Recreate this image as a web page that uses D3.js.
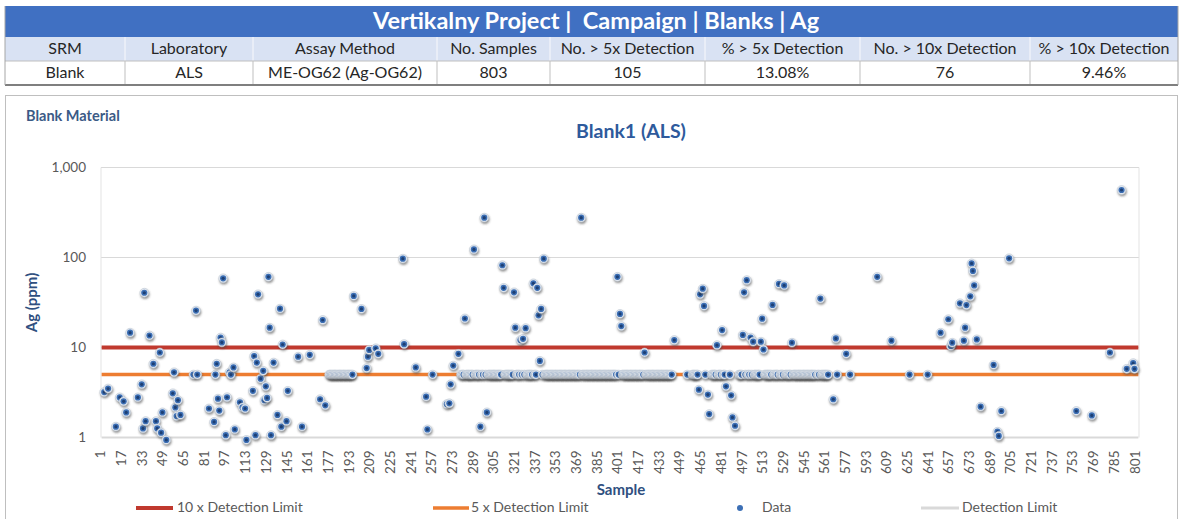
<!DOCTYPE html>
<html><head><meta charset="utf-8">
<script src="https://cdn.jsdelivr.net/npm/d3@7"></script>
<style>
body{margin:0;background:#fff;}
svg{font-family:Lato,"Open Sans",sans-serif;display:block;}
text{white-space:pre;}
</style></head><body>
<svg id="c" width="1182" height="519"></svg>
<script>
// ---------------- data ----------------
const tableTitle = "Vertikalny Project |  Campaign | Blanks | Ag";
const tableHeaders = ["SRM","Laboratory","Assay Method","No. Samples","No. > 5x Detection","% > 5x Detection","No. > 10x Detection","% > 10x Detection"];
const tableValues = ["Blank","ALS","ME-OG62 (Ag-OG62)","803","105","13.08%","76","9.46%"];
const chartTitle = "Blank1 (ALS)";
const cornerLabel = "Blank Material";
const sampleCount = 803;
const xTickLabels = [1,17,33,49,65,81,97,113,129,145,161,177,193,209,225,241,257,273,289,305,321,337,353,369,385,401,417,433,449,465,481,497,513,529,545,561,577,593,609,625,641,657,673,689,705,721,737,753,769,785,801];
const yTickValues = [1,10,100,1000];
const detectionLimit = 1;
const fiveXLimit = 5;
const tenXLimit = 10;
// visible assays (sample number, Ag ppm)
const dataSamples = [3,6,12,15,18,20,23,29,32,33,34,35,38,41,43,44,46,47,48,51,56,57,58,59,60,62,72,74,75,84,88,89,90,91,92,93,94,95,97,98,100,101,103,104,108,110,112,113,118,119,120,121,122,124,126,127,128,129,130,131,132,134,137,139,140,141,144,145,153,156,162,170,172,174,196,202,206,207,208,213,215,234,235,244,252,253,257,268,270,271,273,277,282,289,294,297,299,311,312,320,321,325,327,329,335,338,339,340,341,343,372,400,402,403,421,444,463,464,466,467,470,471,477,481,484,488,489,491,497,498,500,503,505,511,512,513,520,525,529,535,557,567,569,577,601,612,626,640,650,656,658,659,665,668,669,670,673,674,675,676,678,681,691,694,695,697,703,755,767,781,790,794,799,800];
const dataValues  = [3.2,3.5,1.32,2.79,2.52,1.9,14.6,2.79,3.9,1.26,40.6,1.52,13.6,6.6,1.52,1.26,8.8,1.13,1.9,0.94,3.1,5.3,2.16,1.73,2.6,1.78,5,25.7,5,2.1,1.49,5,6.6,2.7,1.99,12.9,11.4,58.7,1.06,2.8,5.3,5,6.0,1.23,2.46,2.16,2.1,0.94,3.3,8.05,1.06,6.8,39,4.5,5.5,2.6,3.7,2.75,61,16.6,1.06,6.8,1.78,27,1.32,10.8,1.52,3.3,7.9,1.32,8.3,2.66,20.2,2.28,37.4,26.8,5.9,7.9,9.4,9.8,8.5,97,10.9,6.0,2.84,1.23,5,2.35,2.4,3.9,6.3,8.5,21,123,1.32,277,1.9,82,46,41,16.6,12.1,12.5,16.4,51.6,46,22.8,7.1,26.8,97,277,61,23.6,17.3,8.8,12.1,3.4,39,45,29,3.0,1.82,10.6,15.6,3.7,2.94,1.67,1.35,13.8,41,56,12.9,11.6,11.6,20.9,9.5,29.7,50.8,49,11.3,35,2.66,12.6,8.5,61,11.9,5,5,14.6,20.6,10.4,11.3,31,11.9,16.6,29.6,37,86,71,49,12.3,2.2,6.4,1.16,1.04,1.97,98,1.97,1.76,8.8,562,5.8,6.7,5.8];
// runs of consecutive samples reported at the 5 ppm level [first, last]
const atFiveRuns = [[177,195],[279,399],[401,442],[454,454],[458,462],[468,468],[473,483],[487,487],[494,553],[555,563],[570,570],[580,580]];
const legendItems = ["10 x Detection Limit","5 x Detection Limit","Data","Detection Limit"];

// ---------------- drawing ----------------
const svg = d3.select("#c");
const defs = svg.append("defs");
defs.append("filter").attr("id","blur").attr("x","-50%").attr("y","-50%").attr("width","200%").attr("height","200%")
  .append("feGaussianBlur").attr("stdDeviation",0.9);
defs.append("filter").attr("id","lblur").attr("x","-5%").attr("y","-300%").attr("width","110%").attr("height","700%")
  .append("feGaussianBlur").attr("stdDeviation",1.1);

// ---- table ----
const colEdges = [5,125,253,437,550,705,860,1030,1178];
const tTop = 6, tMid1 = 37, tMid2 = 61, tBot = 85;
svg.append("rect").attr("x",5).attr("y",tTop).attr("width",1173).attr("height",tMid1-tTop).attr("fill","#4070c2");
svg.append("text").attr("x",596).attr("y",(tTop+tMid1)/2+1).attr("text-anchor","middle").attr("dominant-baseline","middle")
  .attr("fill","#fff").attr("font-weight","bold").attr("font-size",23.5).text(tableTitle);
svg.append("rect").attr("x",5).attr("y",tMid1).attr("width",1173).attr("height",tMid2-tMid1).attr("fill","#d9e2f3");
svg.append("rect").attr("x",5).attr("y",tMid2).attr("width",1173).attr("height",tBot-tMid2).attr("fill","#fff");
for (let i=1;i<colEdges.length-1;i++){
  svg.append("line").attr("x1",colEdges[i]).attr("x2",colEdges[i]).attr("y1",tMid1).attr("y2",tMid2).attr("stroke","#f4f6fb").attr("stroke-width",1.2);
  svg.append("line").attr("x1",colEdges[i]).attr("x2",colEdges[i]).attr("y1",tMid2).attr("y2",tBot).attr("stroke","#bfbfbf").attr("stroke-width",1);
}
svg.append("line").attr("x1",5).attr("x2",1178).attr("y1",tMid2).attr("y2",tMid2).attr("stroke","#bfbfbf");
svg.append("line").attr("x1",5).attr("x2",1178).attr("y1",tBot).attr("y2",tBot).attr("stroke","#7f7f7f").attr("stroke-width",2);
svg.append("line").attr("x1",5).attr("x2",5).attr("y1",tTop).attr("y2",tBot).attr("stroke","#a6a6a6");
svg.append("line").attr("x1",1178).attr("x2",1178).attr("y1",tTop).attr("y2",tBot).attr("stroke","#a6a6a6");
tableHeaders.forEach((h,i)=>{
  const cx=(colEdges[i]+colEdges[i+1])/2;
  svg.append("text").attr("x",cx).attr("y",(tMid1+tMid2)/2+1).attr("text-anchor","middle").attr("dominant-baseline","middle")
    .attr("font-size",16).attr("fill","#262626").text(h);
  svg.append("text").attr("x",cx).attr("y",(tMid2+tBot)/2+1).attr("text-anchor","middle").attr("dominant-baseline","middle")
    .attr("font-size",16).attr("fill","#262626").text(tableValues[i]);
});

// ---- chart frame ----
svg.append("rect").attr("x",5.5).attr("y",95.5).attr("width",1172).attr("height",430).attr("fill","none").attr("stroke","#bfbfbf");
svg.append("text").attr("x",26).attr("y",121).attr("font-size",14.5).attr("font-weight","bold").attr("fill","#3b5a86").text(cornerLabel);
svg.append("text").attr("x",631).attr("y",138).attr("text-anchor","middle").attr("font-size",19.5).attr("font-weight","bold").attr("fill","#2e5a9c").text(chartTitle);

const L=101, R=1139, T=167.5, B=437.5;
const x = d3.scaleBand().domain(d3.range(1,sampleCount+1)).range([L,R]);
const xc = s => x(s)+x.bandwidth()/2;
const y = d3.scaleLog().domain([1,1000]).range([B,T]);

// gridlines & plot border
svg.append("g").selectAll("line").data(yTickValues.slice(1)).join("line")
  .attr("x1",L).attr("x2",R).attr("y1",d=>y(d)).attr("y2",d=>y(d)).attr("stroke","#d9d9d9").attr("stroke-width",1.2);
svg.append("line").attr("x1",L).attr("x2",L).attr("y1",T).attr("y2",B).attr("stroke","#e3e3e3");
svg.append("line").attr("x1",R).attr("x2",R).attr("y1",T).attr("y2",B).attr("stroke","#e3e3e3");

// axes
const yAxis = svg.append("g").attr("transform",`translate(${L-12},0)`)
  .call(d3.axisLeft(y).tickValues(yTickValues).tickFormat(d3.format(",")).tickSize(0));
yAxis.select(".domain").remove();
yAxis.selectAll("text").attr("font-size",13.5).attr("fill","#595959").attr("font-family","Lato,sans-serif");

const xAxis = svg.append("g").attr("transform",`translate(0,${B})`)
  .call(d3.axisBottom(x).tickValues(xTickLabels).tickSize(0));
xAxis.select(".domain").remove();
xAxis.selectAll("text").attr("font-size",13.5).attr("fill","#595959").attr("font-family","Lato,sans-serif")
  .attr("text-anchor","end").attr("transform","rotate(-90)").attr("x",-13).attr("y",-1).attr("dy","0.35em");

// reference lines
const lineGen = d3.line().x(d=>xc(d[0])).y(d=>y(d[1]));
function refLine(v,color,w){
  const pts=[[1,v],[sampleCount,v]];
  svg.append("path").attr("d",lineGen(pts)).attr("transform","translate(1,3.8)").attr("fill","none")
    .attr("stroke","#7f9894").attr("stroke-opacity",0.55).attr("stroke-width",w).attr("filter","url(#lblur)");
  svg.append("path").attr("d",lineGen(pts)).attr("fill","none").attr("stroke",color).attr("stroke-width",w);
}
svg.append("path").attr("d",lineGen([[1,detectionLimit],[sampleCount,detectionLimit]])).attr("fill","none").attr("stroke","#d9d9d9").attr("stroke-width",2.2);
refLine(tenXLimit,"#c0392e",4);
refLine(fiveXLimit,"#ed7d31",3.5);

// points
const points = dataSamples.map((s,i)=>({s, v:dataValues[i]}));
const listed = new Set(dataSamples);
atFiveRuns.forEach(([a,b])=>{ for(let s=a;s<=b;s++) if(!listed.has(s)) points.push({s, v:fiveXLimit}); });
points.sort((a,b)=>a.s-b.s);

const mk = svg.append("g").selectAll("g").data(points).join("g")
  .attr("transform",d=>`translate(${xc(d.s)},${y(d.v)})`);
mk.append("circle").attr("cx",0.7).attr("cy",1.7).attr("r",4.6).attr("fill","#4a4a4a").attr("fill-opacity",0.6).attr("filter","url(#blur)");
mk.append("circle").attr("r",4.4).attr("fill","#e4e9f0").attr("stroke","#bcc7d5").attr("stroke-width",0.6);
mk.append("circle").attr("r",3.1).attr("fill","#3c6fb5");
mk.append("circle").attr("r",1.6).attr("fill","#1d3f73");

// axis titles
svg.append("text").attr("transform",`translate(37,${(T+B)/2}) rotate(-90)`).attr("text-anchor","middle")
  .attr("font-size",15).attr("font-weight","bold").attr("fill","#2f4f80").text("Ag (ppm)");
svg.append("text").attr("x",621).attr("y",495).attr("text-anchor","middle")
  .attr("font-size",15).attr("font-weight","bold").attr("fill","#2f4f80").text("Sample");

// legend
const ly = 508;
const lg = svg.append("g").attr("font-size",14).attr("fill","#595959");
[[136,173,"#c0392e",4],[433,469,"#ed7d31",3.5],[921,959,"#d9d9d9",3]].forEach(([a,b,c,w])=>{
  lg.append("line").attr("x1",a).attr("x2",b).attr("y1",ly).attr("y2",ly).attr("stroke",c).attr("stroke-width",w);
});
lg.append("circle").attr("cx",740).attr("cy",ly).attr("r",3).attr("fill","#3c6fb5");
[[177,0],[471,1],[762,2],[962,3]].forEach(([xx,i])=>{
  lg.append("text").attr("x",xx).attr("y",ly).attr("dominant-baseline","middle").text(legendItems[i]);
});
</script>
</body></html>
